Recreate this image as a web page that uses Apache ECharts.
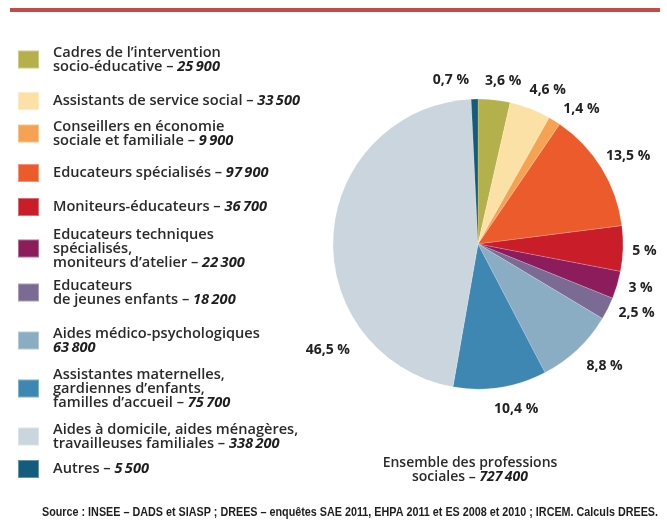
<!DOCTYPE html>
<html>
<head>
<meta charset="utf-8">
<script src="https://cdn.jsdelivr.net/npm/echarts@6/dist/echarts.min.js"></script>
<style>
  html, body { margin: 0; padding: 0; background: #ffffff; }
  #chart { width: 667px; height: 523px; }
</style>
</head>
<body>
<div id="chart"></div>
<script>
// ---- DATA ----
var categories = [
  "Cadres de l\u2019intervention\nsocio-\u00e9ducative",
  "Assistants de service social",
  "Conseillers en \u00e9conomie\nsociale et familiale",
  "Educateurs sp\u00e9cialis\u00e9s",
  "Moniteurs-\u00e9ducateurs",
  "Educateurs techniques\nsp\u00e9cialis\u00e9s,\nmoniteurs d\u2019atelier",
  "Educateurs\nde jeunes enfants",
  "Aides m\u00e9dico-psychologiques",
  "Assistantes maternelles,\ngardiennes d\u2019enfants,\nfamilles d\u2019accueil",
  "Aides \u00e0 domicile, aides m\u00e9nag\u00e8res,\ntravailleuses familiales",
  "Autres"
];
var counts = [25900, 33500, 9900, 97900, 36700, 22300, 18200, 63800, 75700, 338200, 5500];
var pctLabels = ["3,6 %", "4,6 %", "1,4 %", "13,5 %", "5 %", "3 %", "2,5 %", "8,8 %", "10,4 %", "46,5 %", "0,7 %"];
var total = 727400;
var colors = ["#b4b04b", "#fbe1a6", "#f5a352", "#ec5b2b", "#c91d2a", "#8d1c5d", "#7b6a93", "#8badc4", "#3d87b2", "#cbd5dd", "#135c7e"];
var sourceText = "Source : INSEE \u2013 DADS et SIASP ; DREES \u2013 enqu\u00eates SAE 2011, EHPA 2011 et ES 2008 et 2010 ; IRCEM. Calculs DREES.";

// ---- LAYOUT ----
var legendCenters = [59, 98, 133, 170, 204, 248, 292, 340, 388, 436, 466];
var labelNudge = [[6, 7], [8, 6], [13, 11], [4, 2], [-5, 2], [-2, -4], [5, -7], [9, -3], [12, -4], [21, 117], [-23, 7]];
var LH = 14;
var LEG_FS = 14.6;
var FONT = '"Open Sans", "DejaVu Sans", sans-serif';
var SRC_FONT = 'bold 13px "Liberation Sans", Arial, sans-serif';

function fmt(v) {
  return String(v).replace(/\B(?=(\d{3})+(?!\d))/g, "\u2009");
}

var ctx = document.createElement("canvas").getContext("2d");
ctx.font = SRC_FONT;
var srcScale = 616 / ctx.measureText(sourceText).width;

var pieData = categories.map(function (n, i) {
  return { name: n, value: counts[i], itemStyle: { color: colors[i] } };
});

var legends = categories.map(function (n, i) {
  var lines = n.split("\n").length;
  var sep = (n === "Aides m\u00e9dico-psychologiques") ? "\n" : " \u2013 ";
  if (sep === "\n") lines += 1;
  return {
    orient: "vertical",
    left: 17,
    top: legendCenters[i] - lines * LH / 2,
    padding: 0,
    icon: "rect",
    itemWidth: 21,
    itemHeight: 18,
    itemGap: 0,
    selectedMode: false,
    data: [n],
    formatter: function (name) {
      return name + sep + "{n|" + fmt(counts[i]) + "}";
    },
    textStyle: {
      fontFamily: FONT,
      fontSize: LEG_FS,
      fontWeight: 600,
      color: "#2a2a2a",
      lineHeight: LH,
      padding: [0, 0, 0, 9],
      rich: {
        n: { fontFamily: FONT, fontSize: LEG_FS, fontWeight: 700, fontStyle: "italic", color: "#1e1e1e", lineHeight: LH }
      }
    }
  };
});

var chart = echarts.init(document.getElementById("chart"), null, { renderer: "canvas" });
chart.setOption({
  backgroundColor: "#ffffff",
  animation: false,
  legend: legends,
  series: [
    {
      type: "pie",
      center: [478, 244],
      radius: [0, 145],
      startAngle: 90,
      clockwise: true,
      label: { show: false },
      labelLine: { show: false },
      itemStyle: { borderColor: "rgba(255,255,255,0.35)", borderWidth: 0.5 },
      emphasis: { disabled: true },
      data: pieData
    },
    {
      type: "pie",
      silent: true,
      center: [478, 244],
      radius: [146, 191],
      startAngle: 90,
      clockwise: true,
      itemStyle: { color: "rgba(0,0,0,0)" },
      emphasis: { disabled: true },
      label: {
        show: true,
        position: "inside",
        formatter: function (p) { return pctLabels[p.dataIndex]; },
        fontFamily: FONT,
        fontSize: 14,
        fontWeight: 700,
        color: "#222222"
      },
      labelLayout: function (p) {
        var d = labelNudge[p.dataIndex];
        return { dx: d[0], dy: d[1] };
      },
      data: categories.map(function (n, i) { return { name: n + " ", value: counts[i] }; })
    }
  ],
  graphic: [
    {
      type: "line",
      shape: { x1: 10, y1: 10, x2: 660, y2: 10 },
      style: { stroke: "#c44b49", lineWidth: 4 }
    },
    {
      type: "text",
      x: 470,
      y: 470,
      style: {
        text: "Ensemble des professions\nsociales \u2013 {n|" + fmt(total) + "}",
        fontFamily: FONT,
        fontSize: 14,
        fontWeight: 600,
        fill: "#2a2a2a",
        lineHeight: 14,
        align: "center",
        verticalAlign: "middle",
        rich: {
          n: { fontFamily: FONT, fontSize: 14, fontWeight: 700, fontStyle: "italic", fill: "#1e1e1e", lineHeight: 14 }
        }
      }
    },
    {
      type: "text",
      x: 42,
      y: 512,
      scaleX: srcScale,
      style: {
        text: sourceText,
        font: SRC_FONT,
        fill: "#1e1e1e",
        verticalAlign: "middle"
      }
    }
  ]
});
</script>
</body>
</html>
